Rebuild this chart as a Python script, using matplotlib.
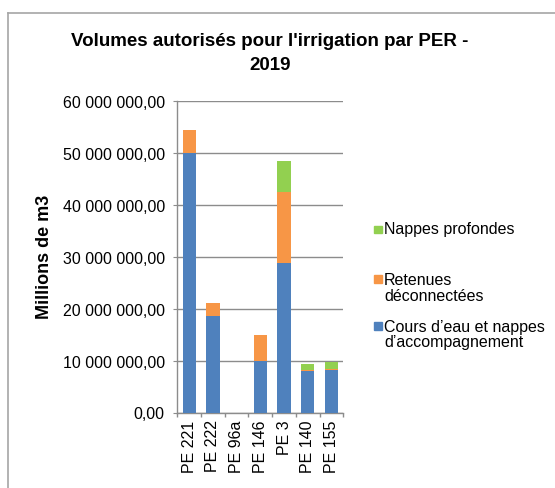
import matplotlib
matplotlib.use("Agg")
import matplotlib.pyplot as plt
from matplotlib.patches import Rectangle
from matplotlib.lines import Line2D
from matplotlib.ticker import FuncFormatter, MultipleLocator, FixedLocator
import numpy as np

plt.rcParams['font.family'] = ['Liberation Sans', 'DejaVu Sans']

categories = ["PE 221", "PE 222", "PE 96a", "PE 146", "PE 3", "PE 140", "PE 155"]
cours_eau = [49.9e6, 18.6e6, 0.0, 10.0e6, 28.7e6, 8.0e6, 8.25e6]
retenues = [4.6e6, 2.5e6, 0.0, 4.9e6, 13.8e6, 0.2e6, 0.2e6]
nappes = [0.0, 0.0, 0.0, 0.0, 6.0e6, 1.1e6, 1.35e6]

series_labels = ["Cours d’eau et nappes\nd’accompagnement", "Retenues\ndéconnectées", "Nappes profondes"]
colors = ["#4F81BD", "#F79646", "#92D050"]

W, H = 555, 489
fig = plt.figure(figsize=(W/100, H/100), dpi=100)

ax = fig.add_axes([177.3/W, 1-413.5/H, (343.3-177.3)/W, (413.5-102)/H])
x = np.arange(len(categories))
bw = 0.56
c = np.array(cours_eau); r = np.array(retenues); n = np.array(nappes)
ax.bar(x, c, bw, color=colors[0], zorder=3)
ax.bar(x, r, bw, bottom=c, color=colors[1], zorder=3)
ax.bar(x, n, bw, bottom=c+r, color=colors[2], zorder=3)

ax.set_xlim(-0.5, len(categories)-0.5)
ax.set_ylim(0, 60e6)
ax.yaxis.set_major_locator(MultipleLocator(10e6))

def fmt(v, pos):
    s = f"{v:,.2f}"
    s = s.replace(",", " ").replace(".", ",")
    return s
ax.yaxis.set_major_formatter(FuncFormatter(fmt))
ax.grid(axis='y', color='#8c8c8c', linewidth=1.0, zorder=0)
for s in ['top', 'right']:
    ax.spines[s].set_visible(False)
for s in ['left', 'bottom']:
    ax.spines[s].set_color('#8c8c8c')
    ax.spines[s].set_linewidth(1.0)

ax.set_xticks(x)
ax.set_xticklabels(categories, rotation=90, fontsize=11.5)
ax.tick_params(axis='x', which='major', length=0, pad=5)
ax.xaxis.set_minor_locator(FixedLocator(np.arange(-0.5, len(categories), 1.0)))
ax.tick_params(axis='x', which='minor', length=3, color='#8c8c8c', width=1)
ax.tick_params(axis='y', length=3, color='#8c8c8c', labelsize=11.5, pad=6)

fig.text(270/W, 1-42/H, "Volumes autorisés pour l'irrigation par PER -", ha='center', va='center',
         fontsize=13.5, fontweight='bold')
fig.text(270/W, 1-66/H, "2019", ha='center', va='center', fontsize=13.5, fontweight='bold')
fig.text(44.5/W, 1-257/H, "Millions de m3", rotation=90, ha='center', va='center',
         fontsize=13, fontweight='bold')

# legend (manual): (series index, y of first line, y of text block centre)
leg_items = [(2, 230.5, 230), (1, 280, 288.5), (0, 327, 335)]
for idx, y_first, yc in leg_items:
    fig.patches.append(Rectangle((374/W, 1-(y_first+3.8)/H), 7.6/W, 7.6/H,
                                 transform=fig.transFigure, color=colors[idx]))
    fig.text(384/W, 1-yc/H, series_labels[idx], ha='left', va='center', fontsize=11.5,
             linespacing=1.02)

# outer border
fig.add_artist(Line2D([8/W, 8/W], [0, 1-14/H], color='#a6a6a6', lw=1.2, transform=fig.transFigure))
fig.add_artist(Line2D([8/W, 1], [1-14/H, 1-14/H], color='#a6a6a6', lw=1.2, transform=fig.transFigure))

fig.savefig("out.png", dpi=100)
